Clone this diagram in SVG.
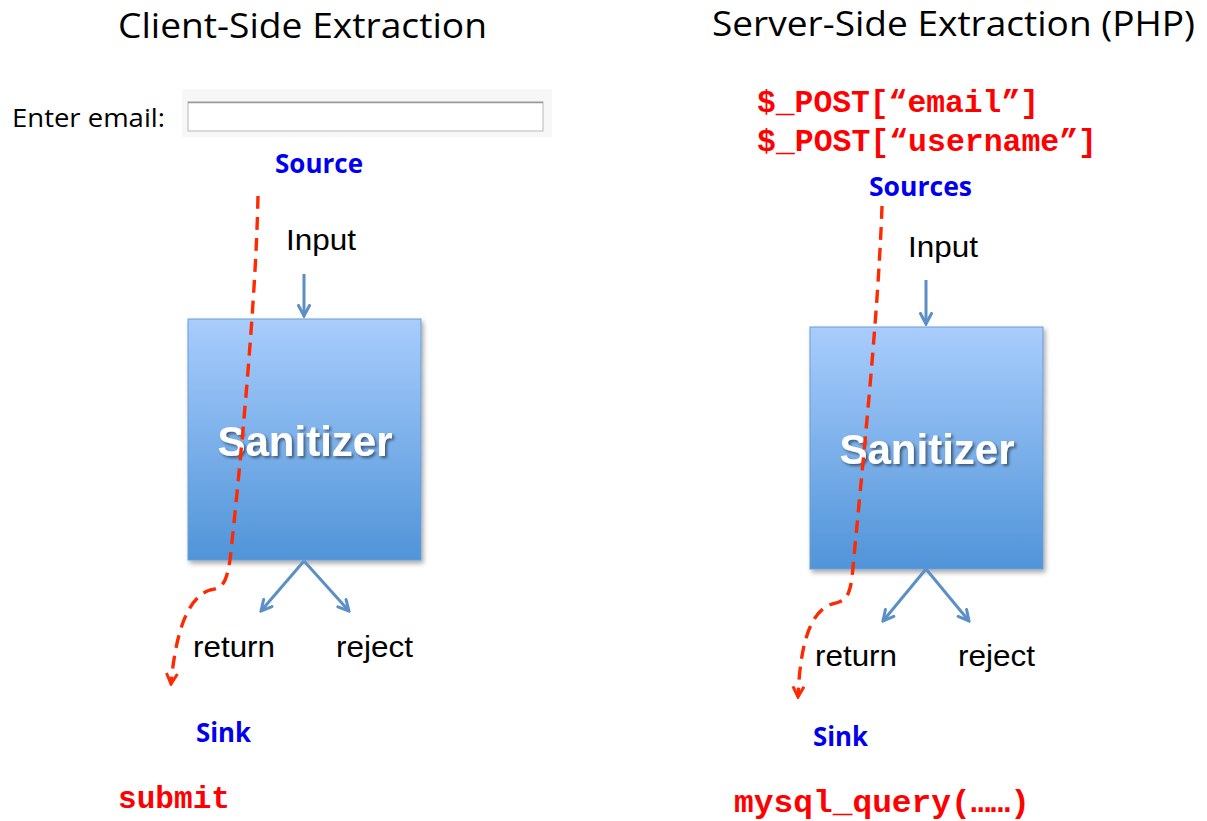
<svg xmlns="http://www.w3.org/2000/svg" width="1207" height="821" viewBox="0 0 1207 821">
  <defs>
    <linearGradient id="boxFill" x1="0" y1="0" x2="0" y2="1">
      <stop offset="0" stop-color="#a9cdfd"/>
      <stop offset="1" stop-color="#5094d8"/>
    </linearGradient>
    <filter id="boxShadow" x="-10%" y="-10%" width="125%" height="125%">
      <feGaussianBlur in="SourceAlpha" stdDeviation="2.5"/>
      <feOffset dx="2" dy="3"/>
      <feComponentTransfer><feFuncA type="linear" slope="0.35"/></feComponentTransfer>
      <feMerge><feMergeNode/><feMergeNode in="SourceGraphic"/></feMerge>
    </filter>
    <filter id="textShadow" x="-10%" y="-30%" width="125%" height="160%">
      <feGaussianBlur in="SourceAlpha" stdDeviation="1.5"/>
      <feOffset dx="2" dy="2"/>
      <feComponentTransfer><feFuncA type="linear" slope="0.5"/></feComponentTransfer>
      <feMerge><feMergeNode/><feMergeNode in="SourceGraphic"/></feMerge>
    </filter>
    <marker id="blueHead" viewBox="0 0 14 14" refX="12" refY="7" markerWidth="14" markerHeight="14" markerUnits="userSpaceOnUse" orient="auto">
      <path d="M1.5,1.5 L12,7 L1.5,12.5" fill="none" stroke="#5b8fc6" stroke-width="3" stroke-linecap="round"/>
    </marker>
    <marker id="redHead" viewBox="0 0 14 14" refX="12" refY="7" markerWidth="14" markerHeight="14" markerUnits="userSpaceOnUse" orient="auto">
      <path d="M1.5,1.5 L12,7 L1.5,12.5" fill="none" stroke="#ff2a00" stroke-width="3"/>
    </marker>
  </defs>
  <style>
    .title { font-family: "Open Sans", "Liberation Sans", sans-serif; font-size: 34px; fill: #000; }
    .label { font-family: "Open Sans", "Liberation Sans", sans-serif; font-weight: bold; font-size: 26px; fill: #0000ee; }
    .plain { font-family: "Liberation Sans", Arial, sans-serif; font-size: 29px; fill: #000; }
    .code { font-family: "Liberation Mono", "Courier New", monospace; font-weight: bold; font-size: 31px; fill: #ff0000; }
    .sanitizer { font-family: "Liberation Sans", Arial, sans-serif; font-weight: bold; font-size: 42px; fill: #fff; text-anchor: middle; }
    .flow { fill: none; stroke: #5b8fc6; stroke-width: 3; }
    .taint { fill: none; stroke: #ff2a00; stroke-width: 3.4; stroke-dasharray: 13 8; }
    .box { fill: url(#boxFill); stroke: #6a9ed6; stroke-width: 1; }
  </style>
  <rect width="1207" height="821" fill="#fff"/>

  <!-- Titles -->
  <g id="titles">
    <text class="title" x="118" y="38" textLength="369" lengthAdjust="spacingAndGlyphs">Client-Side Extraction</text>
    <text class="title" x="712" y="36" textLength="483" lengthAdjust="spacingAndGlyphs">Server-Side Extraction (PHP)</text>
  </g>

  <!-- Client side: email form field -->
  <g id="email-form">
    <text x="12" y="127" font-family="Open Sans, Liberation Sans, sans-serif" font-size="26" fill="#000" textLength="153" lengthAdjust="spacingAndGlyphs">Enter email:</text>
    <rect x="182" y="89" width="370" height="48" fill="#f7f7f7"/>
    <rect x="188" y="102" width="355" height="29" fill="#fff" stroke="#c4c4c4" stroke-width="1.2"/>
    <line x1="188" y1="102.5" x2="543" y2="102.5" stroke="#999" stroke-width="1.5"/>
  </g>

  <g id="client-source">
    <text class="label" x="275" y="173" textLength="88" lengthAdjust="spacingAndGlyphs">Source</text>
  </g>
  <g id="client-input">
    <text class="plain" x="286" y="250" textLength="70" lengthAdjust="spacingAndGlyphs">Input</text>
  </g>

  <g id="client-sanitizer">
    <rect class="box" x="188" y="319" width="233" height="241" filter="url(#boxShadow)"/>
    <text class="sanitizer" x="305" y="456" filter="url(#textShadow)">Sanitizer</text>
  </g>

  <g id="client-return"><text class="plain" x="193" y="657" textLength="82" lengthAdjust="spacingAndGlyphs">return</text></g>
  <g id="client-reject"><text class="plain" x="336" y="657" textLength="77" lengthAdjust="spacingAndGlyphs">reject</text></g>
  <g id="client-sink">
    <text class="label" x="196" y="742" textLength="55" lengthAdjust="spacingAndGlyphs">Sink</text>
    <text class="code" x="118" y="808" textLength="112" lengthAdjust="spacingAndGlyphs">submit</text>
  </g>

  <!-- Server side -->
  <g id="server-sources">
    <text class="code" x="757" y="112" textLength="282" lengthAdjust="spacingAndGlyphs">$_POST[“email”]</text>
    <text class="code" x="757" y="151" textLength="340" lengthAdjust="spacingAndGlyphs">$_POST[“username”]</text>
    <text class="label" x="869" y="196" textLength="103" lengthAdjust="spacingAndGlyphs">Sources</text>
  </g>
  <g id="server-input">
    <text class="plain" x="908" y="257" textLength="70" lengthAdjust="spacingAndGlyphs">Input</text>
  </g>

  <g id="server-sanitizer">
    <rect class="box" x="810" y="327" width="233" height="242" filter="url(#boxShadow)"/>
    <text class="sanitizer" x="927" y="464" filter="url(#textShadow)">Sanitizer</text>
  </g>

  <g id="server-return"><text class="plain" x="815" y="666" textLength="82" lengthAdjust="spacingAndGlyphs">return</text></g>
  <g id="server-reject"><text class="plain" x="958" y="666" textLength="77" lengthAdjust="spacingAndGlyphs">reject</text></g>
  <g id="server-sink">
    <text class="label" x="813" y="746" textLength="55" lengthAdjust="spacingAndGlyphs">Sink</text>
    <text class="code" x="734" y="812" textLength="296" lengthAdjust="spacingAndGlyphs">mysql_query(……)</text>
  </g>

  <!-- Connectors -->
  <g id="connectors">
    <!-- sanitizer inputs and outcomes -->
    <line class="flow" x1="304" y1="274" x2="304" y2="316" marker-end="url(#blueHead)"/>
    <line class="flow" x1="304" y1="561" x2="261" y2="611" marker-end="url(#blueHead)"/>
    <line class="flow" x1="304" y1="561" x2="349" y2="611" marker-end="url(#blueHead)"/>

    <line class="flow" x1="926" y1="280" x2="926" y2="324" marker-end="url(#blueHead)"/>
    <line class="flow" x1="926" y1="569" x2="883" y2="621" marker-end="url(#blueHead)"/>
    <line class="flow" x1="926" y1="569" x2="969" y2="621" marker-end="url(#blueHead)"/>

    <!-- tainted data paths -->
    <path class="taint" d="M258,196 C256,300 240,470 230,560 C226,585 222,588 210,590 C185,598 175,640 171,684" marker-end="url(#redHead)"/>
    <path class="taint" d="M882,206 C878,320 862,470 852,578 C849,598 845,601 832,604 C808,612 800,650 798,697" marker-end="url(#redHead)"/>
  </g>
</svg>
